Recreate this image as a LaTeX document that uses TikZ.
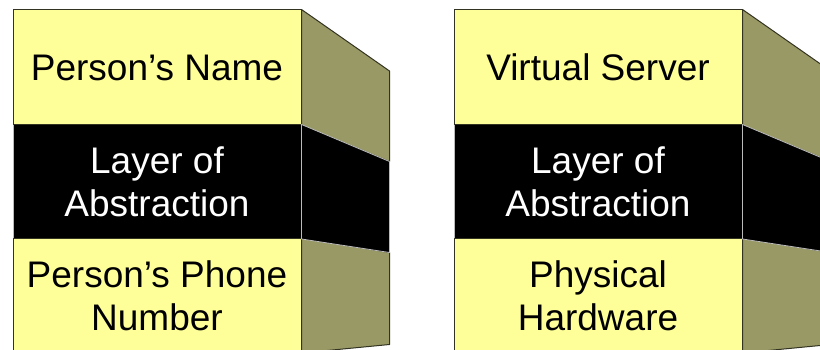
\documentclass[tikz,border=0pt]{standalone}
\usepackage{fontspec}
\setmainfont{Liberation Sans}
\definecolor{faceyellow}{HTML}{FFFF99}
\definecolor{sideolive}{HTML}{999966}
\definecolor{edgedark}{HTML}{333322}
\definecolor{edgelight}{HTML}{BBBBBB}
\begin{document}
\begin{tikzpicture}[x=1pt,y=-1pt,
  front/.style={minimum width=288pt,inner sep=0pt,align=center,
    font=\fontsize{37}{43}\selectfont},
  yface/.style={front,fill=faceyellow,draw=edgedark,line width=1pt,text=black},
  bface/.style={front,fill=black,draw=edgelight,line width=1pt,text=white},
  yside/.style={fill=sideolive,draw=edgedark,line width=1pt,line join=round},
  bside/.style={fill=black,draw=edgelight,line width=0.8pt,line join=round}]
\useasboundingbox (0,0) rectangle (820,350);
\clip (0,0) rectangle (820,350);
% ---- left stack ----
\node[bface,minimum height=113.5pt] (lb) at (157,181.75) {Layer of\\Abstraction};
\node[yface,minimum height=115pt] (lt) at (157,67.5) {Person’s Name};
\node[yface,minimum height=114pt] (lbot) at (157,295.5) {Person’s Phone\\Number};
\draw[yside] (lt.north east) -- ++(88,61.5) -- ++(0,90.5) -- (lt.south east) -- cycle;
\draw[yside] (lbot.north east) -- ++(88,14.5) -- ++(0,92) -- (lbot.south east) -- cycle;
\draw[bside] (lb.north east) -- ++(88,37) -- ++(0,91) -- (lb.south east) -- cycle;
% ---- right stack ----
\node[bface,minimum height=113.5pt] (rb) at (598,181.75) {Layer of\\Abstraction};
\node[yface,minimum height=115pt] (rt) at (598,67.5) {Virtual Server};
\node[yface,minimum height=114pt] (rbot) at (598,295.5) {Physical\\Hardware};
\draw[yside] (rt.north east) -- ++(88,61.5) -- ++(0,90.5) -- (rt.south east) -- cycle;
\draw[yside] (rbot.north east) -- ++(88,14.5) -- ++(0,92) -- (rbot.south east) -- cycle;
\draw[bside] (rb.north east) -- ++(88,37) -- ++(0,91) -- (rb.south east) -- cycle;
\end{tikzpicture}
\end{document}
